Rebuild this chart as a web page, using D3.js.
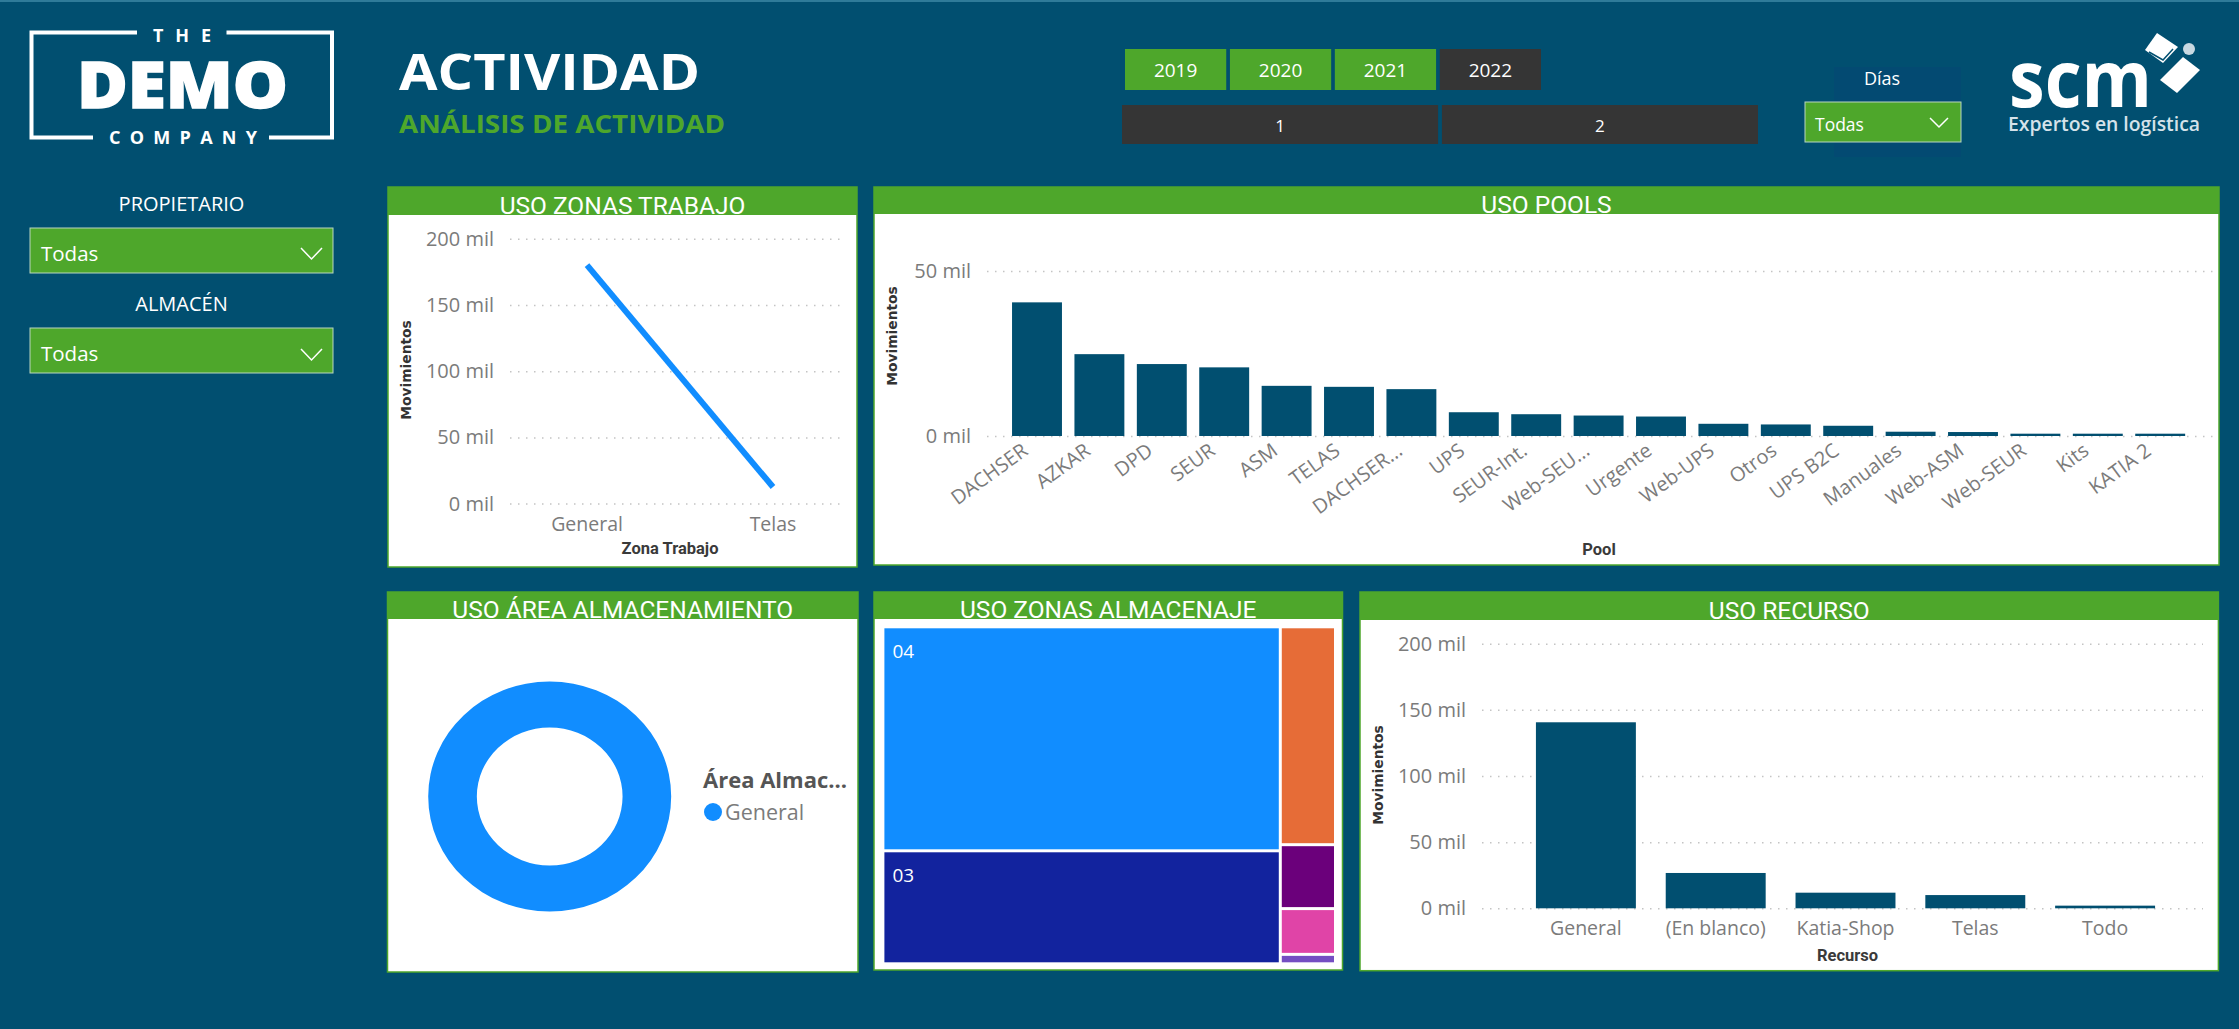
<!DOCTYPE html>
<html>
<head>
<meta charset="utf-8">
<script src="https://cdn.jsdelivr.net/npm/d3@7"></script>
<style>
  html, body { margin: 0; padding: 0; background: #014f70; overflow: hidden; }
  svg { display: block; }
  text { font-family: "Open Sans", sans-serif; }
</style>
</head>
<body>
<div id="wrapper"></div>
<script>
const width = 2239
const height = 1029

const green = "#4ea72b"
const navy = "#014f70"
const dark = "#353535"
const tickGrey = "#7b7b7b"

// data
const zonaCategories = ["General", "Telas"]
const zonaValues = [180000, 12500]
const zonaTicks = [0, 50000, 100000, 150000, 200000]

const poolCategories = ["DACHSER", "AZKAR", "DPD", "SEUR", "ASM", "TELAS", "DACHSER...", "UPS", "SEUR-Int.", "Web-SEU...", "Urgente", "Web-UPS", "Otros", "UPS B2C", "Manuales", "Web-ASM", "Web-SEUR", "Kits", "KATIA 2"]
const poolValues = [40500, 24800, 21800, 20800, 15200, 14900, 14200, 7200, 6600, 6200, 5900, 3700, 3500, 3100, 1300, 1200, 700, 700, 700]
const poolTicks = [0, 50000]

const areaCategories = ["General"]
const areaValues = [192500]

const almacenajeLeftLabels = ["04", "03"]
const almacenajeLeftValues = [111000, 56000]
const almacenajeRightLabels = ["", "", "", ""]
const almacenajeRightValues = [15000, 4400, 3150, 650]
const almacenajeColors = ["#118dff", "#12239e", "#e66c37", "#6b007b", "#e044a7", "#744ec2"]

const recursoCategories = ["General", "(En blanco)", "Katia-Shop", "Telas", "Todo"]
const recursoValues = [140600, 26700, 11800, 10000, 2000]
const recursoTicks = [0, 50000, 100000, 150000, 200000]

const years = ["2019", "2020", "2021", "2022"]
const yearsOn = [true, true, true, false]
const periods = ["1", "2"]

const svg = d3.select("#wrapper").append("svg")
    .attr("width", width)
    .attr("height", height)
    .style("background", navy)

const milFormat = d => (d / 1000) + " mil"

function panel(x0, x1, y0, y1, headerBottom, title, titleY) {
    svg.append("rect").attr("x", x0).attr("y", y0).attr("width", x1 - x0).attr("height", y1 - y0)
        .attr("fill", "#fff").attr("stroke", green).attr("stroke-width", 1.5)
    svg.append("rect").attr("x", x0).attr("y", y0).attr("width", x1 - x0).attr("height", headerBottom - y0)
        .attr("fill", green)
    svg.append("text").attr("x", (x0 + x1) / 2).attr("y", titleY)
        .attr("text-anchor", "middle").attr("fill", "#fff")
        .style("font-family", "Roboto").style("font-size", "24.5px")
        .text(title)
}

function yAxis(scale, ticks, x0, x1) {
    const g = svg.append("g").attr("transform", `translate(${x0},0)`)
        .call(d3.axisLeft(scale).tickValues(ticks).tickFormat(milFormat)
            .tickSizeInner(-(x1 - x0)).tickSizeOuter(0).tickPadding(16))
    g.select(".domain").remove()
    g.selectAll(".tick line").attr("stroke", "#c4c4c4").attr("stroke-width", 1.5).attr("stroke-dasharray", "1.5,6.5")
    g.selectAll(".tick text").attr("fill", tickGrey).style("font-size", "20px").style("font-family", "Open Sans")
}

function xAxisPlain(scale, y) {
    const g = svg.append("g").attr("transform", `translate(0,${y})`)
        .call(d3.axisBottom(scale).tickSize(0).tickPadding(0))
    g.select(".domain").remove()
    g.selectAll(".tick text").attr("fill", tickGrey).style("font-size", "19.5px").style("font-family", "Open Sans")
    return g
}

function axisTitleY(x, y) {
    svg.append("text").attr("transform", `translate(${x},${y}) rotate(-90)`)
        .attr("text-anchor", "middle").attr("fill", "#333")
        .style("font-family", "DejaVu Sans").style("font-weight", "bold").style("font-size", "13.8px")
        .text("Movimientos")
}

function axisTitleX(x, y, label) {
    svg.append("text").attr("x", x).attr("y", y)
        .attr("text-anchor", "middle").attr("fill", "#3a3a3a")
        .style("font-family", "Roboto").style("font-weight", "bold").style("font-size", "16.5px")
        .text(label)
}

function chevron(x0, x1, y0, y1) {
    svg.append("path").attr("d", d3.line()([[x0, y0], [(x0 + x1) / 2, y1], [x1, y0]]))
        .attr("fill", "none").attr("stroke", "#fff").attr("stroke-width", 1.5)
}

function dropdown(x0, x1, y0, y1, textX, textY, size, chev) {
    svg.append("rect").attr("x", x0).attr("y", y0).attr("width", x1 - x0).attr("height", y1 - y0)
        .attr("fill", green).attr("stroke", "#b9d6c0").attr("stroke-width", 1)
    svg.append("text").attr("x", textX).attr("y", textY).attr("dy", "0.36em")
        .attr("fill", "#fff").style("font-size", size + "px").text("Todas")
    chevron(chev[0], chev[1], chev[2], chev[3])
}

function button(x0, x1, y0, y1, fill, label, size) {
    svg.append("rect").attr("x", x0).attr("y", y0).attr("width", x1 - x0).attr("height", y1 - y0).attr("fill", fill)
    svg.append("text").attr("x", (x0 + x1) / 2).attr("y", (y0 + y1) / 2 + 1).attr("dy", "0.36em")
        .attr("text-anchor", "middle").attr("fill", "#fff").style("font-size", size + "px").text(label)
}

// logo demo company
function drawDemoLogo() {
    const box = "M137,32.5H31.5V137.5H93 M269,137.5H332V32.5H226.5"
    svg.append("path").attr("d", box).attr("fill", "none").attr("stroke", "#fff").attr("stroke-width", 4)
    svg.append("text").attr("x", 182).attr("y", 41.5).attr("text-anchor", "middle").attr("fill", "#fff")
        .attr("textLength", 58).attr("lengthAdjust", "spacing")
        .style("font-weight", "bold").style("font-size", "18px").text("THE")
    svg.append("text").attr("x", 182.5).attr("y", 108).attr("text-anchor", "middle").attr("fill", "#fff")
        .attr("textLength", 211).attr("lengthAdjust", "spacingAndGlyphs")
        .attr("stroke", "#fff").attr("stroke-width", 1.5)
        .style("font-weight", "800").style("font-size", "64px").text("DEMO")
    svg.append("text").attr("x", 183).attr("y", 144).attr("text-anchor", "middle").attr("fill", "#fff")
        .attr("textLength", 148).attr("lengthAdjust", "spacing")
        .style("font-weight", "bold").style("font-size", "18px").text("COMPANY")
}

function drawScmLogo() {
    svg.append("text").attr("x", 2009).attr("y", 107).attr("fill", "#fff")
        .attr("textLength", 143).attr("lengthAdjust", "spacingAndGlyphs")
        .style("font-weight", "bold").style("font-size", "78px").text("scm")
    svg.append("text").attr("x", 2008).attr("y", 131).attr("fill", "#d5e2ea")
        .attr("textLength", 192).attr("lengthAdjust", "spacingAndGlyphs")
        .style("font-weight", "600").style("font-size", "20px").text("Expertos en logística")
    const pieces = [
        [[2157, 33], [2178, 47], [2163, 63], [2145, 50]],
        [[2183, 57], [2200, 70], [2177, 93], [2160, 80]]
    ]
    svg.selectAll(".piece").data(pieces).join("polygon").attr("class", "piece")
        .attr("points", d => d.join(" ")).attr("fill", "#fff")
    svg.append("circle").attr("cx", 2189).attr("cy", 49).attr("r", 6).attr("fill", "#c9d9e2")
    svg.append("path").attr("d", d3.line()([[2149, 52], [2163, 60], [2173, 49]]))
        .attr("fill", "none").attr("stroke", navy).attr("stroke-width", 1.5)
}

function drawHeader() {
    svg.append("rect").attr("width", width).attr("height", 2).attr("fill", "#2f7b99")

    svg.append("text").attr("x", 399).attr("y", 90).attr("fill", "#fff")
        .attr("textLength", 301).attr("lengthAdjust", "spacingAndGlyphs")
        .style("font-weight", "bold").style("font-size", "50px").text("ACTIVIDAD")
    svg.append("text").attr("x", 399).attr("y", 132.5).attr("fill", green)
        .attr("textLength", 326).attr("lengthAdjust", "spacingAndGlyphs")
        .style("font-weight", "bold").style("font-size", "25px").text("ANÁLISIS DE ACTIVIDAD")

    svg.append("text").attr("x", 181.5).attr("y", 204).attr("dy", "0.36em").attr("text-anchor", "middle")
        .attr("fill", "#fff").style("font-size", "20px").text("PROPIETARIO")
    dropdown(30, 333, 228, 273, 41, 254, 20.5, [301, 322, 248, 259])
    svg.append("text").attr("x", 181.5).attr("y", 304).attr("dy", "0.36em").attr("text-anchor", "middle")
        .attr("fill", "#fff").style("font-size", "20px").text("ALMACÉN")
    dropdown(30, 333, 328, 373, 41, 354, 20.5, [301, 322, 349, 360])

    const yearX = d3.scaleBand().domain(years).range([1125, 1541]).paddingInner(0.035)
    years.forEach((y, i) => button(yearX(y), yearX(y) + yearX.bandwidth(), 49, 90, yearsOn[i] ? green : dark, y, 19))
    const periodX = d3.scaleBand().domain(periods).range([1122, 1758]).paddingInner(0.012)
    periods.forEach(p => button(periodX(p), periodX(p) + periodX.bandwidth(), 105, 144, dark, p, 17))

    svg.append("rect").attr("x", 1834).attr("y", 67).attr("width", 127).attr("height", 90).attr("fill", "#034a72")
    svg.append("text").attr("x", 1882).attr("y", 79).attr("dy", "0.36em").attr("text-anchor", "middle")
        .attr("fill", "#fff").style("font-size", "18px").text("Días")
    dropdown(1805, 1961, 102, 142, 1815, 125, 17.5, [1930, 1948, 118, 127])
}

function drawZona() {
    panel(388, 857, 187, 567, 215, "USO ZONAS TRABAJO", 214)
    const y = d3.scaleLinear().domain([0, 200000]).range([503.6, 238.7])
    const x = d3.scaleBand().domain(zonaCategories).range([494, 866])
    yAxis(y, zonaTicks, 510, 842)
    const line = d3.line().x((d, i) => x(zonaCategories[i]) + x.bandwidth() / 2).y(d => y(d))
    svg.append("path").attr("d", line(zonaValues)).attr("fill", "none").attr("stroke", "#118dff").attr("stroke-width", 6)
    xAxisPlain(x, 517)
    axisTitleY(411, 370)
    axisTitleX(670, 554, "Zona Trabajo")
}

function drawPools() {
    panel(874, 2219, 187, 565, 214, "USO POOLS", 213)
    const y = d3.scaleLinear().domain([0, 50000]).range([436, 271])
    const x = d3.scaleBand().domain(poolCategories).range([1005.8, 2191.4]).paddingInner(0.2).paddingOuter(0.1)
    yAxis(y, poolTicks, 987, 2214)
    svg.append("g").selectAll("rect").data(poolValues).join("rect")
        .attr("x", (d, i) => x(poolCategories[i])).attr("width", x.bandwidth())
        .attr("y", d => y(d)).attr("height", d => y(0) - y(d)).attr("fill", navy)
    const g = xAxisPlain(x, 442)
    g.selectAll(".tick text").attr("text-anchor", "end").attr("dy", "0.71em")
        .style("font-size", "20px")
        .attr("transform", "translate(-16,0) rotate(-36)")
    axisTitleY(897, 336)
    axisTitleX(1599, 555, "Pool")
}

function drawArea() {
    panel(387.5, 858, 592, 972, 619, "USO ÁREA ALMACENAMIENTO", 618)
    const arc = d3.arc().innerRadius(69).outerRadius(115)
    const pie = d3.pie().sort(null)
    svg.append("g").attr("transform", "translate(549.7,796.5) scale(1.056,1)")
        .selectAll("path").data(pie(areaValues)).join("path")
        .attr("d", arc).attr("fill", "#118dff")
    svg.append("text").attr("x", 703).attr("y", 780).attr("dy", "0.36em").attr("fill", "#555")
        .style("font-weight", "bold").style("font-size", "22px").text("Área Almac...")
    svg.append("ellipse").attr("cx", 713).attr("cy", 812).attr("rx", 9).attr("ry", 9).attr("fill", "#118dff")
    svg.append("text").attr("x", 725).attr("y", 812).attr("dy", "0.36em").attr("fill", tickGrey)
        .style("font-size", "21.5px").text(areaCategories[0])
}

function drawAlmacenaje() {
    panel(874, 1342.5, 592, 970, 619, "USO ZONAS ALMACENAJE", 618)
    const hierarchy = {
        children: [
            { children: almacenajeLeftValues.map((v, i) => ({ value: v, name: almacenajeLeftLabels[i] })) },
            { children: almacenajeRightValues.map((v, i) => ({ value: v, name: almacenajeRightLabels[i] })) }
        ]
    }
    const root = d3.hierarchy(hierarchy).sum(d => d.value || 0)
    d3.treemap().tile(d3.treemapSliceDice).size([449.6, 334]).paddingInner(3)(root)
    const g = svg.append("g").attr("transform", "translate(884.4,628.3)")
    const cell = g.selectAll("g").data(root.leaves()).join("g")
        .attr("transform", d => `translate(${d.x0},${d.y0})`)
    cell.append("rect").attr("width", d => d.x1 - d.x0).attr("height", d => d.y1 - d.y0)
        .attr("fill", (d, i) => almacenajeColors[i])
    cell.append("text").attr("x", 8).attr("y", 30).attr("fill", "#fff")
        .style("font-size", "19px").text(d => d.data.name)
}

function drawRecurso() {
    panel(1360, 2218.4, 592, 970.7, 620, "USO RECURSO", 619)
    const y = d3.scaleLinear().domain([0, 200000]).range([908.3, 643.7])
    const x = d3.scaleBand().domain(recursoCategories).range([1521, 2170]).paddingInner(0.23).paddingOuter(0.115)
    yAxis(y, recursoTicks, 1482, 2203)
    svg.append("g").selectAll("rect").data(recursoValues).join("rect")
        .attr("x", (d, i) => x(recursoCategories[i])).attr("width", x.bandwidth())
        .attr("y", d => y(d)).attr("height", d => y(0) - y(d)).attr("fill", navy)
    xAxisPlain(x, 921)
    axisTitleY(1383, 775)
    axisTitleX(1847.5, 961, "Recurso")
}

drawDemoLogo()
drawScmLogo()
drawHeader()
drawZona()
drawPools()
drawArea()
drawAlmacenaje()
drawRecurso()
</script>
</body>
</html>
